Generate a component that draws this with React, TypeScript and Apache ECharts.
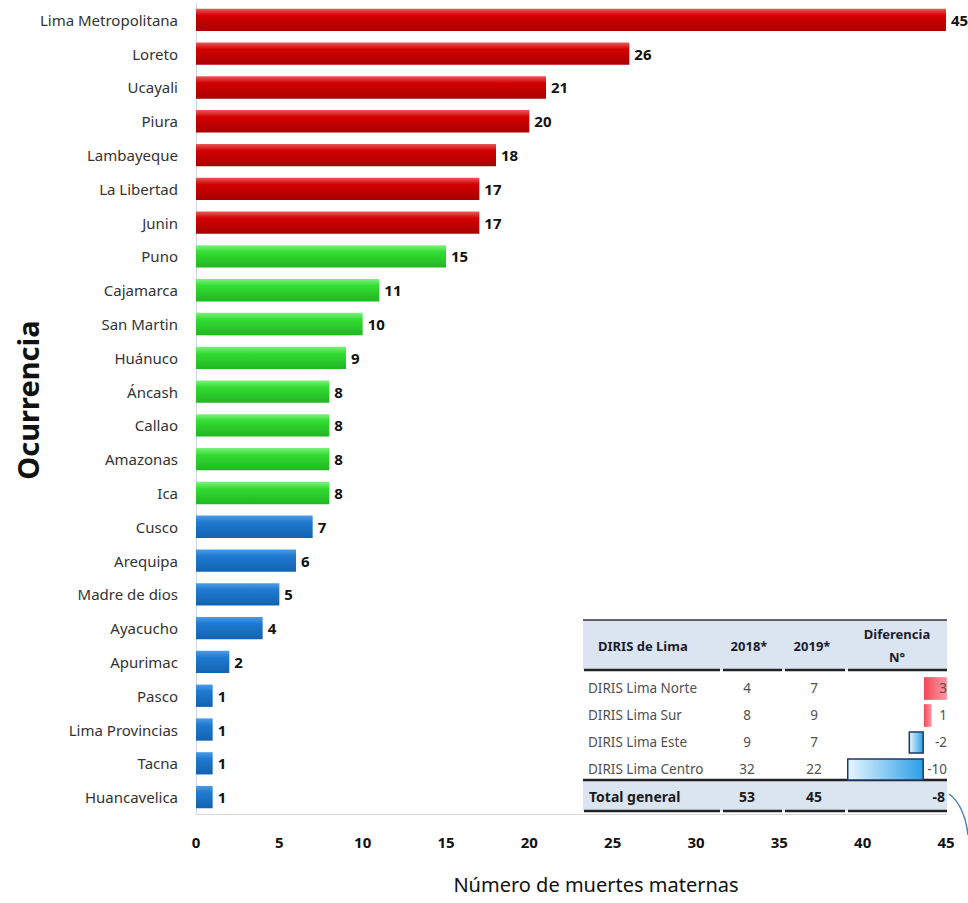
import React, { useEffect, useRef } from "react";
import * as echarts from "echarts";

const categories = [
  "Lima Metropolitana", "Loreto", "Ucayali", "Piura", "Lambayeque", "La Libertad", "Junin",
  "Puno", "Cajamarca", "San Martin", "Huánuco", "Áncash", "Callao", "Amazonas", "Ica",
  "Cusco", "Arequipa", "Madre de dios", "Ayacucho", "Apurimac", "Pasco", "Lima Provincias", "Tacna", "Huancavelica",
];
const deaths = [45, 26, 21, 20, 18, 17, 17, 15, 11, 10, 9, 8, 8, 8, 8, 7, 6, 5, 4, 2, 1, 1, 1, 1];
const groups = [
  "high", "high", "high", "high", "high", "high", "high",
  "mid", "mid", "mid", "mid", "mid", "mid", "mid", "mid",
  "low", "low", "low", "low", "low", "low", "low", "low", "low",
];
const xTicks = [0, 5, 10, 15, 20, 25, 30, 35, 40, 45];

const tableHeader = ["DIRIS de Lima", "2018*", "2019*", "Diferencia", "N°"];
const dirisNames = ["DIRIS Lima Norte", "DIRIS Lima Sur", "DIRIS Lima Este", "DIRIS Lima Centro"];
const diris2018 = [4, 8, 9, 32];
const diris2019 = [7, 9, 7, 22];
const dirisDiff = [3, 1, -2, -10];
const totalLabel = "Total general";
const total2018 = 53;
const total2019 = 45;
const totalDiff = -8;

const grad = (stops: [number, string][]) => ({
  type: "linear", x: 0, y: 0, x2: 0, y2: 1,
  colorStops: stops.map(([offset, color]) => ({ offset, color })),
});
const palette: Record<string, any> = {
  high: grad([[0, "#e85a5a"], [0.3, "#d40000"], [1, "#a80000"]]),
  mid: grad([[0, "#7cf27c"], [0.3, "#33dd33"], [1, "#22b522"]]),
  low: grad([[0, "#4d9ce6"], [0.3, "#1f7ad0"], [1, "#1462b0"]]),
};

export default function App() {
  const ref = useRef<HTMLDivElement>(null);
  useEffect(() => {
    if (!ref.current) return;
    const chart = echarts.init(ref.current, null, { renderer: "svg" });
    const font = "'Noto Sans', sans-serif";
    const rowY = [688, 715, 742, 769];
    const graphic: any[] = [];
    graphic.push({ type: "rect", shape: { x: 583, y: 620, width: 364, height: 50 }, style: { fill: "#dbe5f1" }, z: 10 });
    graphic.push({ type: "rect", shape: { x: 583, y: 671, width: 364, height: 109 }, style: { fill: "#ffffff" }, z: 9 });
    graphic.push({ type: "rect", shape: { x: 583, y: 781, width: 364, height: 30 }, style: { fill: "#dbe5f1" }, z: 10 });
    graphic.push({ type: "line", shape: { x1: 583, y1: 620, x2: 947, y2: 620 }, style: { stroke: "#333", lineWidth: 1.5 }, z: 11 });
    const segs = [[584, 720], [723, 782], [785, 845], [848, 947]];
    segs.forEach(([a, b]) => {
      graphic.push({ type: "line", shape: { x1: a, y1: 670, x2: b, y2: 670 }, style: { stroke: "#222", lineWidth: 2.5 }, z: 11 });
      graphic.push({ type: "line", shape: { x1: a, y1: 811, x2: b, y2: 811 }, style: { stroke: "#222", lineWidth: 2.5 }, z: 11 });
    });
    graphic.push({ type: "line", shape: { x1: 583, y1: 780, x2: 947, y2: 780 }, style: { stroke: "#222", lineWidth: 2.5 }, z: 11 });
    const hdrStyle = { fontFamily: font, fontSize: 13, fontWeight: "bold", fill: "#1c1c30", verticalAlign: "middle" };
    graphic.push({ type: "text", x: 598, y: 646, style: { ...hdrStyle, text: tableHeader[0], align: "left" }, z: 50 });
    graphic.push({ type: "text", x: 749, y: 646, style: { ...hdrStyle, text: tableHeader[1], align: "center" }, z: 50 });
    graphic.push({ type: "text", x: 812, y: 646, style: { ...hdrStyle, text: tableHeader[2], align: "center" }, z: 50 });
    graphic.push({ type: "text", x: 897, y: 634, style: { ...hdrStyle, text: tableHeader[3], align: "center" }, z: 50 });
    graphic.push({ type: "text", x: 897, y: 657, style: { ...hdrStyle, text: tableHeader[4], align: "center" }, z: 50 });
    const cell = { fontFamily: font, fontSize: 13.5, fill: "#505050", verticalAlign: "middle" };
    dirisNames.forEach((n, i) => {
      graphic.push({ type: "text", x: 588, y: rowY[i], style: { ...cell, text: n, align: "left" }, z: 50 });
      graphic.push({ type: "text", x: 747, y: rowY[i], style: { ...cell, text: String(diris2018[i]), align: "center" }, z: 50 });
      graphic.push({ type: "text", x: 814, y: rowY[i], style: { ...cell, text: String(diris2019[i]), align: "center" }, z: 50 });
      graphic.push({ type: "text", x: 947, y: rowY[i], style: { ...cell, text: String(dirisDiff[i]), align: "right" }, z: 50 });
    });
    const tot = { fontFamily: font, fontSize: 14, fontWeight: "bold", fill: "#1a1a1a", verticalAlign: "middle" };
    graphic.push({ type: "text", x: 589, y: 796, style: { ...tot, text: totalLabel, align: "left" }, z: 50 });
    graphic.push({ type: "text", x: 747, y: 796, style: { ...tot, text: String(total2018), align: "center" }, z: 50 });
    graphic.push({ type: "text", x: 814, y: 796, style: { ...tot, text: String(total2019), align: "center" }, z: 50 });
    graphic.push({ type: "text", x: 945, y: 796, style: { ...tot, text: String(totalDiff), align: "right" }, z: 50 });
    graphic.push({ type: "text", x: 596, y: 884, style: { text: "Número de muertes maternas", fontFamily: font, fontSize: 20, fill: "#111", align: "center", verticalAlign: "middle" } });
    graphic.push({ type: "text", x: 27, y: 400, rotation: Math.PI / 2, style: { text: "Ocurrencia", fontFamily: font, fontSize: 29, fontWeight: "bold", fill: "#111", align: "center", verticalAlign: "middle" } });
    graphic.push({ type: "bezierCurve", shape: { x1: 949, y1: 794, cpx1: 958, cpy1: 800, cpx2: 966, cpy2: 815, x2: 968, y2: 835 }, style: { stroke: "#4a7ebb", lineWidth: 1.5, fill: "none" }, z: 12 });

    chart.setOption({
      animation: false,
      backgroundColor: "#ffffff",
      grid: [
        { left: 196, right: 22, top: 3, bottom: 89 },
        { left: 847, width: 100, top: 675, height: 108, z: 20 },
      ],
      xAxis: [
        {
          gridIndex: 0, type: "value", min: 0, max: 45, interval: 5,
          axisLine: { show: true, lineStyle: { color: "#d6d6d6" } },
          axisTick: { show: false }, splitLine: { show: false },
          axisLabel: { fontFamily: font, fontSize: 15, fontWeight: "bold", color: "#111", margin: 20 },
        },
        { gridIndex: 1, type: "value", min: -10, max: 3, show: false },
      ],
      yAxis: [
        {
          gridIndex: 0, type: "category", data: categories, inverse: true,
          axisLine: { show: true, lineStyle: { color: "#cdd8e4" } },
          axisTick: { show: false },
          axisLabel: { fontFamily: font, fontSize: 15, color: "#333", margin: 18 },
        },
        { gridIndex: 1, type: "category", data: dirisNames, inverse: true, show: false },
      ],
      series: [
        {
          type: "bar", xAxisIndex: 0, yAxisIndex: 0, barCategoryGap: "34%",
          data: deaths.map((v, i) => ({ value: v, itemStyle: { color: palette[groups[i]] } })),
          label: { show: true, position: "right", distance: 5, fontFamily: font, fontSize: 15, fontWeight: "bold", color: "#111" },
        },
        {
          type: "bar", xAxisIndex: 1, yAxisIndex: 1, barCategoryGap: "16%", z: 20,
          data: dirisDiff.map((v) => ({
            value: v,
            itemStyle: v >= 0
              ? { color: { type: "linear", x: 0, y: 0, x2: 1, y2: 0, colorStops: [{ offset: 0, color: "#f04858" }, { offset: 1, color: "#ff9aa6" }] } }
              : { color: { type: "linear", x: 0, y: 0, x2: 1, y2: 0, colorStops: [{ offset: 0, color: "#e6f6ff" }, { offset: 1, color: "#2a9fe6" }] }, borderColor: "#1f3864", borderWidth: 1.5 },
          })),
        },
      ],
      graphic,
    });
    return () => chart.dispose();
  }, []);
  return <div ref={ref} style={{ width: 968, height: 903, position: "absolute", left: 0, top: 0 }} />;
}
